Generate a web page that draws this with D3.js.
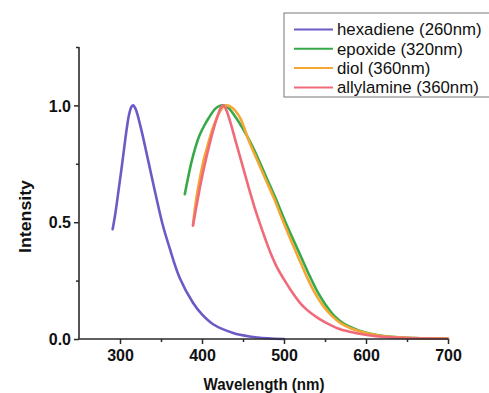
<!DOCTYPE html>
<html><head><meta charset="utf-8">
<script src="https://cdn.jsdelivr.net/npm/d3@7"></script>
<style>
html,body{margin:0;padding:0;background:#fff;}
svg{display:block;}
</style></head>
<body>
<svg id="chart" width="489" height="393"></svg>
<script>
// ---- data (wavelength nm, normalized intensity) ----
const seriesNames = ["hexadiene (260nm)", "epoxide (320nm)", "diol (360nm)", "allylamine (360nm)"];
const seriesColors = ["#6a5bc6", "#38a94a", "#f5a733", "#f06a7a"];

const hexadiene = [[291,0.47],[294,0.53],[298,0.63],[303,0.76],[308,0.895],[311,0.96],[314,0.994],[316,1.0],[319,0.985],[325,0.91],[334,0.77],[344,0.61],[352,0.49],[360,0.395],[373,0.26],[389,0.155],[400,0.105],[414,0.062],[438,0.026],[458,0.011],[480,0.003],[500,0.0]];
const epoxide = [[379,0.62],[383,0.69],[387,0.755],[392,0.82],[397,0.872],[403,0.915],[408,0.945],[416,0.985],[421,0.997],[426,1.0],[432,0.99],[440,0.955],[450,0.90],[460,0.835],[470,0.76],[480,0.68],[490,0.60],[500,0.515],[510,0.435],[521,0.35],[532,0.265],[542,0.195],[551,0.145],[561,0.10],[572,0.068],[585,0.045],[597,0.03],[615,0.016],[635,0.008],[660,0.004],[700,0.001]];
const diol = [[389,0.49],[393,0.60],[397,0.68],[401.6,0.76],[407,0.83],[413,0.90],[420,0.962],[426,0.994],[430,1.0],[436,0.992],[446,0.95],[457,0.85],[468,0.76],[478,0.68],[488,0.60],[497,0.52],[507,0.435],[518,0.345],[528,0.265],[538,0.195],[548,0.14],[558,0.10],[569,0.068],[582,0.045],[595,0.03],[613,0.016],[635,0.008],[660,0.004],[700,0.001]];
const allylamine = [[389,0.485],[393,0.565],[397,0.64],[401,0.71],[405.5,0.78],[410,0.845],[415,0.91],[420,0.965],[423,0.99],[426,1.0],[429,0.985],[434,0.935],[440,0.86],[446,0.785],[452,0.71],[458,0.635],[464,0.565],[470,0.50],[477,0.43],[484,0.365],[491,0.31],[500,0.255],[510,0.20],[519.5,0.155],[527,0.128],[534,0.108],[543,0.086],[552,0.068],[565,0.046],[580,0.031],[601,0.017],[625,0.008],[650,0.004],[700,0.001]];
const allSeries = [hexadiene, epoxide, diol, allylamine];

const xMajorTicks = [300, 400, 500, 600, 700];
const xMinorTicks = [350, 450, 550, 650];
const yMajorTicks = [0.0, 0.5, 1.0];
const yMinorTicks = [0.25, 0.75, 1.25];
const xTitle = "Wavelength (nm)";
const yTitle = "Intensity";

// ---- layout ----
const svg = d3.select("#chart");
const x = d3.scaleLinear().domain([250, 700]).range([79, 448]);
const y = d3.scaleLinear().domain([0, 1.25]).range([339, 47]);
const axisColor = "#2a2a2a";
const font = "Arial, 'Liberation Sans', Helvetica, sans-serif";

// curves
const line = d3.line().x(d => x(d[0])).y(d => y(d[1])).curve(d3.curveCatmullRom.alpha(0.5));
svg.append("g").selectAll("path").data(allSeries).join("path")
  .attr("d", line)
  .attr("fill", "none")
  .attr("stroke", (d, i) => seriesColors[i])
  .attr("stroke-width", 2.6)
  .attr("stroke-linejoin", "round")
  .attr("stroke-linecap", "round");

// x axis
const gx = svg.append("g").attr("transform", `translate(0,${y(0)})`)
  .call(d3.axisBottom(x).tickValues(xMajorTicks).tickSize(5).tickFormat(d3.format("d")));
const gxm = svg.append("g").attr("transform", `translate(0,${y(0)})`)
  .call(d3.axisBottom(x).tickValues(xMinorTicks).tickSize(3).tickFormat(""));
gx.selectAll(".domain").remove();
gxm.selectAll(".domain").remove();
gx.append("line").attr("x1", x(250)).attr("x2", x(700)).attr("stroke", axisColor).attr("stroke-width", 1.6);

// y axis
const gy = svg.append("g").attr("transform", `translate(${x(250)},0)`)
  .call(d3.axisLeft(y).tickValues(yMajorTicks).tickSize(5).tickFormat(d3.format(".1f")));
const gym = svg.append("g").attr("transform", `translate(${x(250)},0)`)
  .call(d3.axisLeft(y).tickValues(yMinorTicks).tickSize(3).tickFormat(""));
gy.selectAll(".domain").remove();
gym.selectAll(".domain").remove();
gy.append("line").attr("y1", y(0)).attr("y2", y(1.25)).attr("stroke", axisColor).attr("stroke-width", 1.6);

svg.selectAll(".tick line").attr("stroke", axisColor).attr("stroke-width", 1.5);
svg.selectAll(".tick text").attr("font-family", font).attr("font-size", 16)
  .attr("font-weight", "bold").attr("fill", "#111");
gx.selectAll(".tick text").attr("y", 11).attr("dy", "0.71em");
gy.selectAll(".tick text").attr("x", -8).attr("dy", "0.35em");

// axis titles
svg.append("text").text(xTitle)
  .attr("x", 264).attr("y", 390).attr("text-anchor", "middle")
  .attr("font-family", font).attr("font-size", 17).attr("font-weight", "bold")
  .attr("textLength", 121).attr("lengthAdjust", "spacingAndGlyphs").attr("fill", "#111");
svg.append("text").text(yTitle)
  .attr("transform", "translate(31,216.5) rotate(-90)").attr("text-anchor", "middle")
  .attr("font-family", font).attr("font-size", 16.5).attr("font-weight", "bold")
  .attr("textLength", 73).attr("lengthAdjust", "spacingAndGlyphs").attr("fill", "#111");

// legend
const lg = svg.append("g");
lg.append("rect").attr("x", 284).attr("y", 13).attr("width", 220).attr("height", 84)
  .attr("fill", "#fff").attr("stroke", "#777").attr("stroke-width", 1);
const rows = lg.selectAll("g.row").data(seriesNames).join("g").attr("class", "row")
  .attr("transform", (d, i) => `translate(0,${29.5 + i * 19.3})`);
rows.append("line").attr("x1", 294).attr("x2", 333)
  .attr("stroke", (d, i) => seriesColors[i]).attr("stroke-width", 2);
rows.append("text").text(d => d).attr("x", 337).attr("dy", "0.35em")
  .attr("font-family", font).attr("font-size", 16.8).attr("fill", "#111");
</script>
</body></html>
